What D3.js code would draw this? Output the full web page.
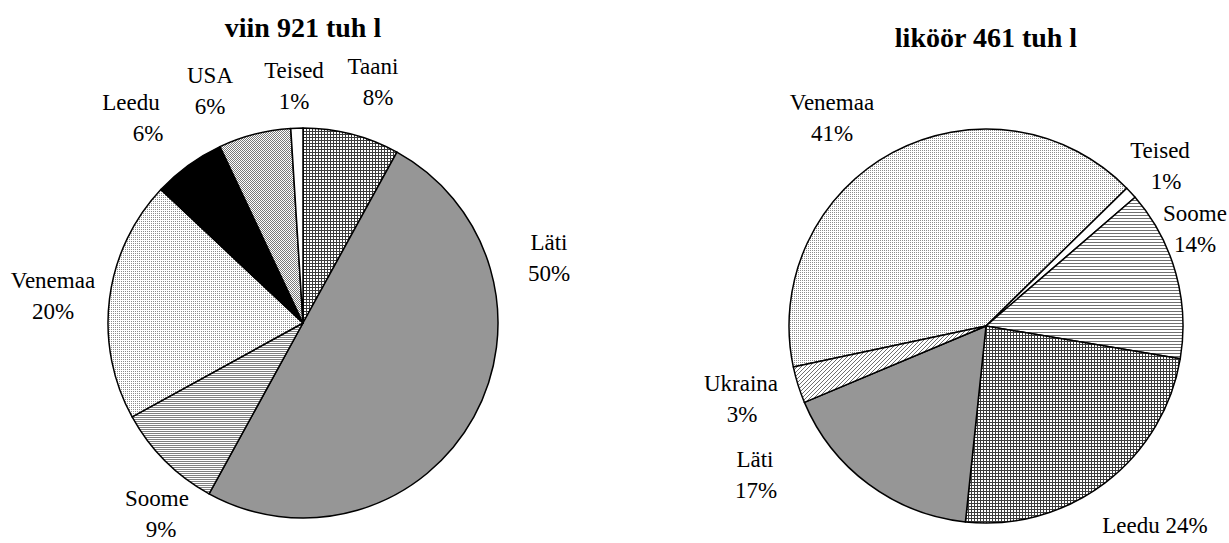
<!DOCTYPE html>
<html>
<head>
<meta charset="utf-8">
<script src="https://cdn.jsdelivr.net/npm/d3@7"></script>
<style>
	body { margin: 0; background: #fff; }
	svg { display: block; }
</style>
</head>
<body>
<div id="chart"></div>
<script>
/* jshint esversion: 6 */

///////////////////////////////////////////////////////////////////////////////
//// Data /////////////////////////////////////////////////////////////////////
///////////////////////////////////////////////////////////////////////////////
const wineTitle = "viin 921 tuh l";
const wineCountries = ["Taani", "Läti", "Soome", "Venemaa", "Leedu", "USA", "Teised"];
const wineShares = [8, 50, 9, 20, 6, 6, 1];

const liqueurTitle = "liköör 461 tuh l";
const liqueurCountries = ["Venemaa", "Teised", "Soome", "Leedu", "Läti", "Ukraina"];
const liqueurShares = [41, 1, 14, 24, 17, 3];

///////////////////////////////////////////////////////////////////////////////
//// Layout ///////////////////////////////////////////////////////////////////
///////////////////////////////////////////////////////////////////////////////
const width = 1229,
			height = 543;

const fontFamily = "'Liberation Serif', 'Times New Roman', serif";

// Fill pattern of each slice, in data order
const wineFills = ["grid", "solid", "hlinesDense", "dotsLight", "black", "dotsDark", "white"];
const liqueurFills = ["dotsLight", "white", "hlines", "grid", "solid", "diag"];

// Label anchors: [x of name, baseline of name, x of percent]
const wineLabelPos = [
	[373, 74, 378], [549, 250, 549], [157, 506, 161], [53, 288, 53],
	[131, 110, 148], [210, 83, 210], [294, 78, 294]
];
const liqueurLabelPos = [
	[832, 110, 832], [1160, 158, 1166], [1195, 221, 1195], [1155, 533, 0],
	[755, 467, 756], [741, 391, 742]
];

const charts = [
	{ title: wineTitle, titleY: 37, cx: 303, cy: 323, r: 195, start: 0,
		names: wineCountries, values: wineShares, fills: wineFills, labels: wineLabelPos, oneLine: [] },
	{ title: liqueurTitle, titleY: 47, cx: 986, cy: 326, r: 197, start: -102 * Math.PI / 180,
		names: liqueurCountries, values: liqueurShares, fills: liqueurFills, labels: liqueurLabelPos, oneLine: ["Leedu"] }
];

const svg = d3.select("#chart")
	.append("svg")
		.attr("width", width)
		.attr("height", height);

///////////////////////////////////////////////////////////////////////////////
// Patterns
const defs = svg.append("defs");

function pattern(id, size, draw) {
	const p = defs.append("pattern")
			.attr("id", id)
			.attr("patternUnits", "userSpaceOnUse")
			.attr("width", size)
			.attr("height", size);
	p.append("rect")
			.attr("width", size)
			.attr("height", size)
			.attr("fill", "#fff");
	draw(p);
}

function px(p, x, y, w, h, c) {
	p.append("rect")
			.attr("x", x).attr("y", y)
			.attr("width", w).attr("height", h)
			.attr("fill", c)
			.attr("shape-rendering", "crispEdges");
}

pattern("grid", 3, p => { px(p, 0, 0, 3, 1, "#3c3c3c"); px(p, 0, 0, 1, 3, "#3c3c3c"); });
pattern("hlinesDense", 2, p => px(p, 0, 0, 2, 1, "#808080"));
pattern("hlines", 3, p => px(p, 0, 0, 3, 1, "#707070"));
pattern("dotsLight", 2, p => px(p, 0, 0, 1, 1, "#8c8c8c"));
pattern("dotsDark", 2, p => { px(p, 0, 0, 1, 1, "#7a7a7a"); px(p, 1, 1, 1, 1, "#7a7a7a"); });
pattern("diag", 4, p => {
	px(p, 3, 0, 1, 1, "#6f6f6f"); px(p, 2, 1, 1, 1, "#6f6f6f");
	px(p, 1, 2, 1, 1, "#6f6f6f"); px(p, 0, 3, 1, 1, "#6f6f6f");
});

const fillColor = {
	grid: "url(#grid)",
	hlinesDense: "url(#hlinesDense)",
	hlines: "url(#hlines)",
	dotsLight: "url(#dotsLight)",
	dotsDark: "url(#dotsDark)",
	diag: "url(#diag)",
	solid: "#969696",
	black: "#000",
	white: "#fff"
};

///////////////////////////////////////////////////////////////////////////////
//// Draw pies ////////////////////////////////////////////////////////////////
///////////////////////////////////////////////////////////////////////////////
charts.forEach(chart => {
	const rows = chart.names.map((d, i) => ({
		name: d,
		value: chart.values[i],
		fill: chart.fills[i],
		pos: chart.labels[i]
	}));

	const pie = d3.pie()
			.sort(null)
			.value(d => d.value)
			.startAngle(chart.start)
			.endAngle(chart.start + 2 * Math.PI);

	const arc = d3.arc()
			.innerRadius(0)
			.outerRadius(chart.r);

	// Title
	svg.append("text")
			.attr("x", chart.cx)
			.attr("y", chart.titleY)
			.attr("text-anchor", "middle")
			.attr("font-family", fontFamily)
			.attr("font-size", 28)
			.attr("font-weight", "bold")
			.text(chart.title);

	// Slices
	svg.append("g")
			.attr("transform", `translate(${chart.cx}, ${chart.cy})`)
		.selectAll("path")
		.data(pie(rows))
		.enter()
		.append("path")
			.attr("d", arc)
			.attr("fill", d => fillColor[d.data.fill])
			.attr("stroke", "#000")
			.attr("stroke-width", 1.5)
			.attr("stroke-linejoin", "round");

	// Labels
	const label = svg.append("g")
		.selectAll("text")
		.data(rows)
		.enter()
		.append("text")
			.attr("text-anchor", "middle")
			.attr("font-family", fontFamily)
			.attr("font-size", 23)
			.attr("x", d => d.pos[0])
			.attr("y", d => d.pos[1]);

	label.each(function(d) {
		const t = d3.select(this);
		if (chart.oneLine.includes(d.name)) {
			t.text(`${d.name} ${d.value}%`);
		} else {
			t.append("tspan")
					.attr("x", d.pos[0])
					.text(d.name);
			t.append("tspan")
					.attr("x", d.pos[2])
					.attr("dy", 31)
					.text(d.value + "%");
		}
	});
});
</script>
</body>
</html>
